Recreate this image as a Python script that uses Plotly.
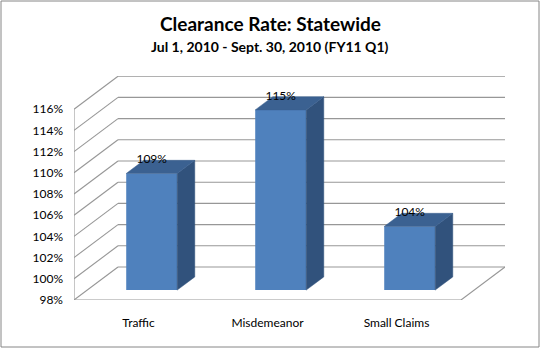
import plotly.graph_objects as go

# ---- data ----
categories = ["Traffic", "Misdemeanor", "Small Claims"]
values = [109, 115, 104]          # clearance rate, %
value_labels = ["109%", "115%", "104%"]
tick_values = [98, 100, 102, 104, 106, 108, 110, 112, 114, 116]
tick_labels = ["98%", "100%", "102%", "104%", "106%", "108%", "110%", "112%", "114%", "116%"]
title = "Clearance Rate: Statewide"
subtitle = "Jul 1, 2010 - Sept. 30, 2010 (FY11 Q1)"

# ---- layout geometry (pixels) ----
W, H = 541, 349
ML, MR, MT, MB = 74, 36, 76, 49
PW, PH = W - ML - MR, H - MT - MB
PX_PER_CAT = 129.0
PX_PER_PCT = 10.6
YMIN = 98
XR = [-0.5, -0.5 + PW / PX_PER_CAT]
YR = [YMIN, YMIN + PH / PX_PER_PCT]
DX = 44 / PX_PER_CAT         # full depth in x data units
DY = 33 / PX_PER_PCT         # full depth in y data units
D0, D1 = 0.3, 0.7            # bar depth span
BW = 0.395                   # bar width (category units)

FONT = "Lato, Carlito, Calibri, sans-serif"
FRONT, SIDE, TOP = "#4F81BD", "#31527C", "#3B6191"
GRID = "#979797"

fig = go.Figure()

ncat = len(categories)
xl, xr = -0.5, ncat - 0.5
ymax = max(tick_values)

# walls / gridlines (drawn below all traces)
segs = []
for t in tick_values:
    segs.append((xl, t, xl + DX, t + DY))
    segs.append((xl + DX, t + DY, xr + DX, t + DY))
segs.append((xl, YMIN, xl, ymax))                 # left wall front edge
segs.append((xl, YMIN, xr, YMIN))                 # floor front edge
segs.append((xr, YMIN, xr + DX, YMIN + DY))       # floor right diagonal
for x0, y0, x1, y1 in segs:
    fig.add_shape(type="line", xref="x", yref="y", x0=x0, y0=y0, x1=x1, y1=y1,
                  line=dict(color=GRID, width=1.1), layer="below")

s0x, s0y = D0 * DX, D0 * DY
s1x, s1y = D1 * DX, D1 * DY

for c, v in zip(range(ncat), values):
    # side face
    xs = [c + BW / 2 + s0x, c + BW / 2 + s1x, c + BW / 2 + s1x, c + BW / 2 + s0x, c + BW / 2 + s0x]
    ys = [YMIN + s0y, YMIN + s1y, v + s1y, v + s0y, YMIN + s0y]
    fig.add_trace(go.Scatter(x=xs, y=ys, mode="lines", fill="toself", fillcolor=SIDE,
                             line=dict(color=SIDE, width=0.5), hoverinfo="skip",
                             cliponaxis=False, showlegend=False))
    # top face
    xs = [c - BW / 2 + s0x, c + BW / 2 + s0x, c + BW / 2 + s1x, c - BW / 2 + s1x, c - BW / 2 + s0x]
    ys = [v + s0y, v + s0y, v + s1y, v + s1y, v + s0y]
    fig.add_trace(go.Scatter(x=xs, y=ys, mode="lines", fill="toself", fillcolor=TOP,
                             line=dict(color=TOP, width=0.5), hoverinfo="skip",
                             cliponaxis=False, showlegend=False))

# front faces
fig.add_trace(go.Bar(x=[c + s0x for c in range(ncat)],
                     y=[v - YMIN for v in values],
                     base=[YMIN + s0y] * ncat,
                     width=BW, marker=dict(color=FRONT, line=dict(width=0)),
                     hoverinfo="skip", showlegend=False))

# value labels
fig.add_trace(go.Scatter(x=[c + s0x for c in range(ncat)],
                         y=[v + s1y for v in values],
                         mode="text", text=value_labels, textposition="middle center",
                         textfont=dict(family=FONT, size=12, color="#000000"),
                         hoverinfo="skip", cliponaxis=False, showlegend=False))

def px_to_paper_x(px):
    return (px - ML) / PW

def px_to_paper_y(py):
    return (H - MB - py) / PH

# outer border
fig.add_shape(type="rect", xref="paper", yref="paper",
              x0=px_to_paper_x(1), x1=px_to_paper_x(539),
              y0=px_to_paper_y(347), y1=px_to_paper_y(1),
              line=dict(color="#868686", width=1), layer="below")

fig.add_annotation(text="<b>" + title + "</b>", xref="paper", yref="paper",
                   x=px_to_paper_x(270), y=px_to_paper_y(23), showarrow=False,
                   font=dict(family=FONT, size=19, color="#000000"),
                   xanchor="center", yanchor="middle")
fig.add_annotation(text="<b>" + subtitle + "</b>", xref="paper", yref="paper",
                   x=px_to_paper_x(270), y=px_to_paper_y(46), showarrow=False,
                   font=dict(family=FONT, size=14, color="#000000"),
                   xanchor="center", yanchor="middle")

fig.update_layout(
    width=W, height=H, margin=dict(l=ML, r=MR, t=MT, b=MB),
    paper_bgcolor="white", plot_bgcolor="rgba(0,0,0,0)",
    barmode="overlay", showlegend=False,
    xaxis=dict(range=XR, tickvals=list(range(ncat)), ticktext=categories,
               showgrid=False, zeroline=False, showline=False, ticks="",
               ticklabelstandoff=14,
               tickfont=dict(family=FONT, size=12, color="#000000")),
    yaxis=dict(range=YR, tickvals=tick_values, ticktext=tick_labels,
               showgrid=False, zeroline=False, showline=False, ticks="",
               ticklabelstandoff=10,
               tickfont=dict(family=FONT, size=12, color="#000000")),
)

fig.write_html("out.html")
